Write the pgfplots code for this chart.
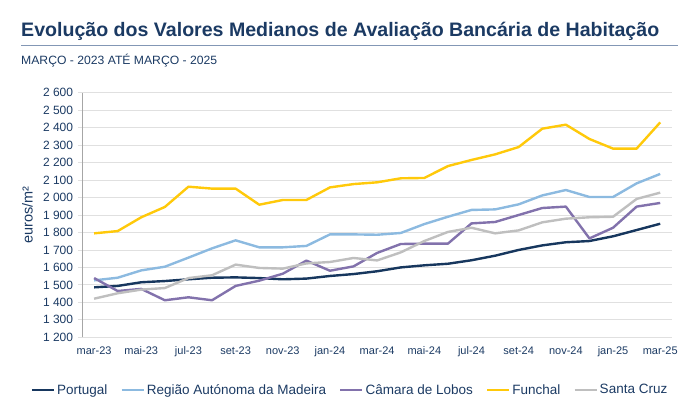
\documentclass[border=0pt]{standalone}
\usepackage{pgfplots}
\pgfplotsset{compat=1.18}
\usepackage{fontspec}
\setmainfont{Liberation Sans}

\definecolor{navy}{HTML}{1B3A63}
\definecolor{ptc}{HTML}{17375E}
\definecolor{madc}{HTML}{8CBAE0}
\definecolor{cdlc}{HTML}{8272AC}
\definecolor{func}{HTML}{FFC90A}
\definecolor{scc}{HTML}{BFBFBF}
\definecolor{gridc}{HTML}{E0E0E0}
\definecolor{axc}{HTML}{A6A6A6}
\definecolor{rulec}{HTML}{8397B5}

\begin{document}
\begin{tikzpicture}
\useasboundingbox (0,0) rectangle (700pt,412pt);

% title block
\node[anchor=base west, inner sep=0, text=navy] at (21pt,375.3pt)
  {\resizebox{638pt}{\height}{\fontsize{19.5}{23}\selectfont\bfseries Evolução dos Valores Medianos de Avaliação Bancária de Habitação}};
\draw[rulec, line width=1.1pt] (21pt,366.3pt) -- (678pt,366.3pt);
\node[anchor=base west, inner sep=0, text=navy] at (21pt,347pt)
  {\resizebox{196pt}{\height}{\fontsize{12}{14}\selectfont MARÇO - 2023 ATÉ MARÇO - 2025}};

\begin{axis}[
    at={(82.3pt,74.7pt)}, anchor=south west,
    scale only axis, width=589.7pt, height=244.6pt,
    xmin=-0.5, xmax=24.5, ymin=1200, ymax=2600,
    axis x line*=bottom, axis y line*=left,
    x axis line style={-, draw=gridc, line width=0.8pt},
    y axis line style={-, draw=axc, line width=0.8pt},
    ymajorgrids, grid style={gridc, line width=0.8pt},
    ytick={1200,1300,...,2600},
    xtick={0,2,...,24},
    xticklabels={mar-23,mai-23,jul-23,set-23,nov-23,jan-24,mar-24,mai-24,jul-24,set-24,nov-24,jan-25,mar-25},
    major x tick style={draw=none},
    extra x ticks={-0.5,1.5,...,23.5},
    extra x tick labels={},
    extra x tick style={tick align=outside, major tick length=3.5pt, major tick style={draw=gridc, line width=0.8pt}},
    ytick style={draw=gridc, line width=0.8pt},
    tick align=outside, major tick length=4pt,
    /pgf/number format/assume math mode=true,
    /pgf/number format/1000 sep={\ },
    yticklabel style={font=\fontsize{12}{14}\selectfont, text=navy, inner sep=0pt, anchor=east, xshift=-5pt},
    xticklabel style={font=\fontsize{11}{13}\selectfont, text=navy, inner sep=0pt, anchor=north, yshift=-5pt},
    ylabel={euros/m²},
    ylabel style={font=\fontsize{14.5}{16}\selectfont, text=navy, at={(axis description cs:-0.0929,0.5)}, anchor=center},
    legend columns=-1,
    legend style={at={(0.454,-0.2155)}, anchor=center, draw=none, fill=none,
        font=\fontsize{13.5}{15}\selectfont, text=navy,
        /tikz/every even column/.append style={column sep=11pt}},
    legend image code/.code={\draw[#1] (0pt,0pt) -- (22pt,0pt);},
    every axis plot/.append style={line width=2.4pt, line join=round},
]
\addplot[ptc] coordinates {
 (0,1486) (1,1494) (2,1515) (3,1522) (4,1532) (5,1541) (6,1543) (7,1539) (8,1532) (9,1536)
 (10,1551) (11,1562) (12,1578) (13,1600) (14,1612) (15,1621) (16,1641) (17,1667) (18,1700)
 (19,1726) (20,1744) (21,1751) (22,1778) (23,1814) (24,1850)
};
\addlegendentry{Portugal}
\addplot[madc] coordinates {
 (0,1526) (1,1541) (2,1583) (3,1604) (4,1656) (5,1709) (6,1755) (7,1715) (8,1715) (9,1723)
 (10,1789) (11,1789) (12,1787) (13,1797) (14,1848) (15,1890) (16,1929) (17,1932) (18,1961)
 (19,2012) (20,2043) (21,2003) (22,2003) (23,2081) (24,2135)
};
\addlegendentry{Região Autónoma da Madeira}
\addplot[cdlc] coordinates {
 (0,1539) (1,1465) (2,1477) (3,1412) (4,1429) (5,1412) (6,1494) (7,1524) (8,1564) (9,1639)
 (10,1581) (11,1606) (12,1683) (13,1734) (14,1736) (15,1736) (16,1852) (17,1860) (18,1900)
 (19,1940) (20,1948) (21,1766) (22,1827) (23,1948) (24,1969)
};
\addlegendentry{Câmara de Lobos}
\addplot[func] coordinates {
 (0,1795) (1,1808) (2,1887) (3,1946) (4,2062) (5,2051) (6,2051) (7,1959) (8,1986) (9,1986)
 (10,2058) (11,2077) (12,2087) (13,2110) (14,2112) (15,2180) (16,2215) (17,2247) (18,2289)
 (19,2394) (20,2417) (21,2335) (22,2280) (23,2280) (24,2430)
};
\addlegendentry{Funchal}
\addplot[scc] coordinates {
 (0,1421) (1,1452) (2,1473) (3,1482) (4,1539) (5,1555) (6,1616) (7,1597) (8,1593) (9,1623)
 (10,1631) (11,1654) (12,1640) (13,1686) (14,1751) (15,1803) (16,1827) (17,1795) (18,1812)
 (19,1858) (20,1879) (21,1887) (22,1890) (23,1992) (24,2028)
};
\addlegendentry{Santa Cruz}
\end{axis}
\end{tikzpicture}
\end{document}
